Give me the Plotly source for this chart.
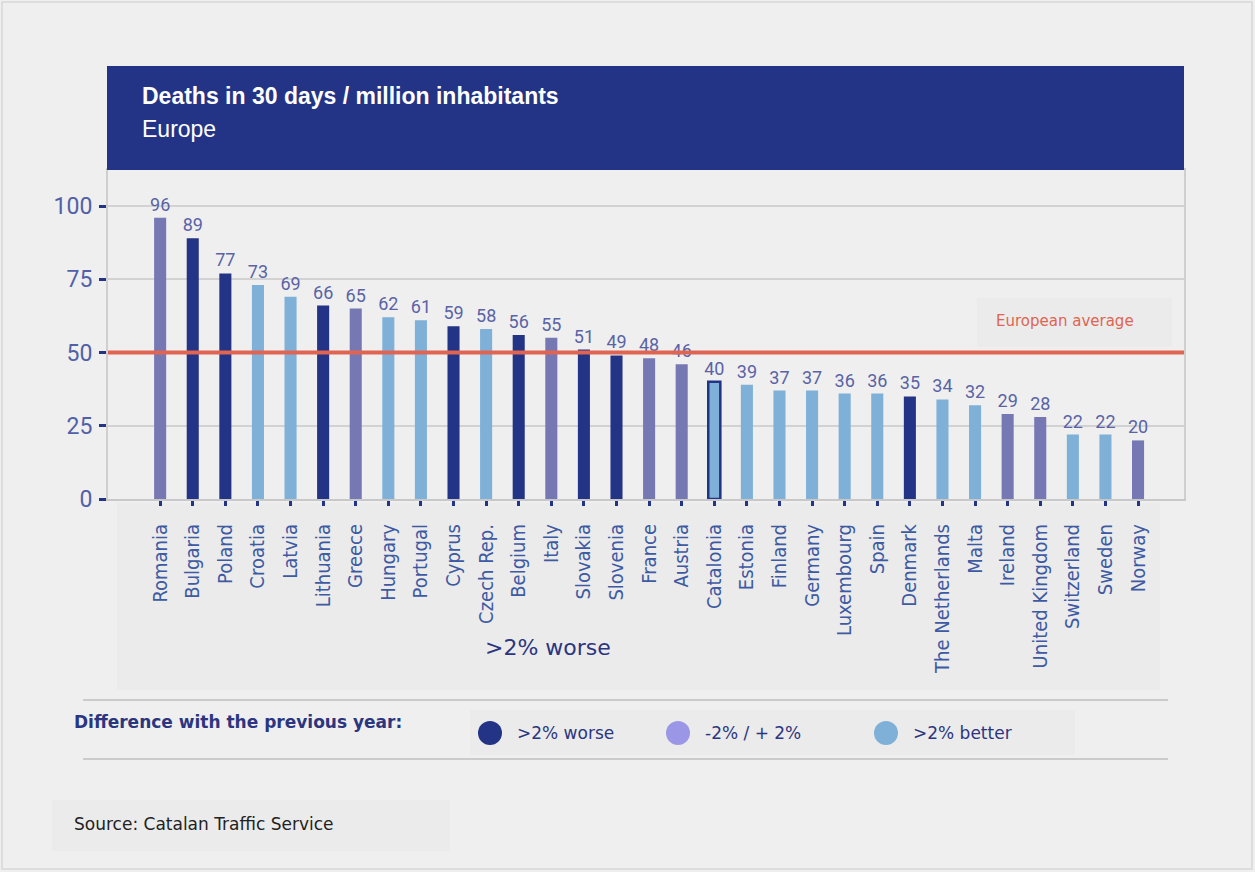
import plotly.graph_objects as go

# Road deaths within 30 days per million inhabitants, by country
countries = ["Romania", "Bulgaria", "Poland", "Croatia", "Latvia", "Lithuania", "Greece",
             "Hungary", "Portugal", "Cyprus", "Czech Rep.", "Belgium", "Italy", "Slovakia",
             "Slovenia", "France", "Austria", "Catalonia", "Estonia", "Finland", "Germany",
             "Luxembourg", "Spain", "Denmark", "The Netherlands", "Malta", "Ireland",
             "United Kingdom", "Switzerland", "Sweden", "Norway"]
deaths = [96, 89, 77, 73, 69, 66, 65, 62, 61, 59, 58, 56, 55, 51, 49, 48, 46, 40, 39, 37,
          37, 36, 36, 35, 34, 32, 29, 28, 22, 22, 20]
# change vs previous year: "worse" (>2% worse), "stable" (-2%/+2%), "better" (>2% better)
trend = ["stable", "worse", "worse", "better", "better", "worse", "stable", "better", "better",
         "worse", "better", "worse", "stable", "worse", "worse", "stable", "stable", "better",
         "better", "better", "better", "better", "better", "worse", "better", "better",
         "stable", "stable", "better", "better", "stable"]
european_average = 50
highlight = "Catalonia"

legend_labels = [">2% worse", "-2% / + 2%", ">2% better"]
y_ticks = [0, 25, 50, 75, 100]

NAVY = "#233486"
BAR_COLORS = {"worse": NAVY, "stable": "#7678b4", "better": "#7eb0d8"}
LEGEND_COLORS = [NAVY, "#9b97e6", "#7eb0d8"]
BG = "#efefef"
TEXT_BLUE = "#2b3580"
NARROW = "DejaVu Sans Condensed, Liberation Sans Narrow, DejaVu Sans, sans-serif"

W, H = 1255, 872
ML, MR, MT, MB = 108, 71, 170, 373
PW, PH = W - ML - MR, H - MT - MB


def px(x):
    return (x - ML) / PW


def py(y):
    return (H - MB - y) / PH


colors = [BAR_COLORS[t] for t in trend]
line_w = [2.5 if c == highlight else 0 for c in countries]

fig = go.Figure()
fig.add_trace(go.Bar(
    x=countries, y=deaths, width=0.37,
    marker=dict(color=colors, line=dict(color=NAVY, width=line_w)),
    text=[str(v) for v in deaths], textposition="outside", constraintext="none",
    textfont=dict(family="Roboto", size=18, color="#5a63a6"),
    cliponaxis=False, hoverinfo="x+y", showlegend=False,
))

# European average reference line
fig.add_shape(type="line", xref="paper", yref="y", x0=0, x1=1,
              y0=european_average, y1=european_average,
              line=dict(color="#e06452", width=4), layer="above")

shapes = []
# page frame
shapes.append(dict(type="rect", xref="paper", yref="paper", x0=px(2), x1=px(1252),
                   y0=py(869), y1=py(2), line=dict(color="#d8d8d8", width=1.5),
                   fillcolor="rgba(0,0,0,0)", layer="below"))
# band behind category labels
shapes.append(dict(type="rect", xref="paper", yref="paper", x0=px(117), x1=px(1160),
                   y0=py(690), y1=py(503), line=dict(width=0), fillcolor="#ebebeb",
                   layer="below"))
# box behind the average label
shapes.append(dict(type="rect", xref="paper", yref="paper", x0=px(977), x1=px(1172),
                   y0=py(347), y1=py(298), line=dict(width=0), fillcolor="#ebebeb",
                   layer="below"))
# header band
shapes.append(dict(type="rect", xref="paper", yref="paper", x0=px(107), x1=px(1184),
                   y0=py(170), y1=py(66), line=dict(width=0), fillcolor=NAVY,
                   layer="above"))
# separators around the legend
for yy in (700, 759):
    shapes.append(dict(type="line", xref="paper", yref="paper", x0=px(83), x1=px(1168),
                       y0=py(yy), y1=py(yy), line=dict(color="#cbcbcb", width=2)))
# legend box
shapes.append(dict(type="rect", xref="paper", yref="paper", x0=px(470), x1=px(1075),
                   y0=py(755), y1=py(710), line=dict(width=0), fillcolor="#ebebeb",
                   layer="below"))
# source box
shapes.append(dict(type="rect", xref="paper", yref="paper", x0=px(52), x1=px(450),
                   y0=py(851), y1=py(800), line=dict(width=0), fillcolor="#ebebeb",
                   layer="below"))
# legend swatches
legend_x = [490, 678, 886]
for cx, col in zip(legend_x, LEGEND_COLORS):
    r = 12
    shapes.append(dict(type="circle", xref="paper", yref="paper",
                       x0=px(cx - r), x1=px(cx + r), y0=py(733 + r), y1=py(733 - r),
                       line=dict(width=0), fillcolor=col))
for s in shapes:
    fig.add_shape(**s)

ann = []
ann.append(dict(text="<b>Deaths in 30 days / million inhabitants</b>", x=px(140), y=py(96),
                xanchor="left", yanchor="middle",
                font=dict(family="Liberation Sans", size=23, color="white")))
ann.append(dict(text="Europe", x=px(140), y=py(129), xanchor="left", yanchor="middle",
                font=dict(family="Liberation Sans", size=23, color="white")))
ann.append(dict(text="European average", x=px(1065), y=py(321), xanchor="center",
                yanchor="middle", font=dict(family="DejaVu Sans", size=15, color="#e06452")))
ann.append(dict(text=legend_labels[0], x=px(548), y=py(647), xanchor="center",
                yanchor="middle", font=dict(family="DejaVu Sans", size=22, color=TEXT_BLUE)))
ann.append(dict(text="<b>Difference with the previous year:</b>", x=px(72), y=py(722),
                xanchor="left", yanchor="middle",
                font=dict(family="DejaVu Sans", size=17, color=TEXT_BLUE)))
for cx, lab in zip(legend_x, legend_labels):
    ann.append(dict(text=lab, x=px(cx + 25), y=py(733), xanchor="left", yanchor="middle",
                    font=dict(family="DejaVu Sans", size=17, color=TEXT_BLUE)))
ann.append(dict(text="Source: Catalan Traffic Service", x=px(72), y=py(824),
                xanchor="left", yanchor="middle",
                font=dict(family="DejaVu Sans", size=17, color="#222222")))
for a in ann:
    fig.add_annotation(xref="paper", yref="paper", showarrow=False, **a)

fig.update_layout(
    width=W, height=H,
    margin=dict(l=ML, r=MR, t=MT, b=MB, pad=0),
    paper_bgcolor=BG, plot_bgcolor=BG,
    xaxis=dict(type="category", range=[-1.6, 31.41], tickangle=-90,
               tickfont=dict(family=NARROW, size=20, color="#3d5aa3"),
               ticks="outside", ticklen=5, tickwidth=2.5, tickcolor=NAVY,
               showline=True, linecolor="#c8c8c8", linewidth=2, mirror=True,
               showgrid=False, ticklabelstandoff=10, fixedrange=True),
    yaxis=dict(range=[0, PH / 2.93], tickvals=y_ticks,
               tickfont=dict(family="Roboto", size=23, color="#5260a8"),
               ticks="outside", ticklen=7, tickwidth=2.5, tickcolor=NAVY,
               showline=True, linecolor="#cfcfcf", linewidth=2, mirror=True,
               gridcolor="#d2d2d2", gridwidth=1.5, zeroline=False,
               ticklabelstandoff=2, fixedrange=True),
    bargap=0.63,
)

fig.write_html("out.html")
